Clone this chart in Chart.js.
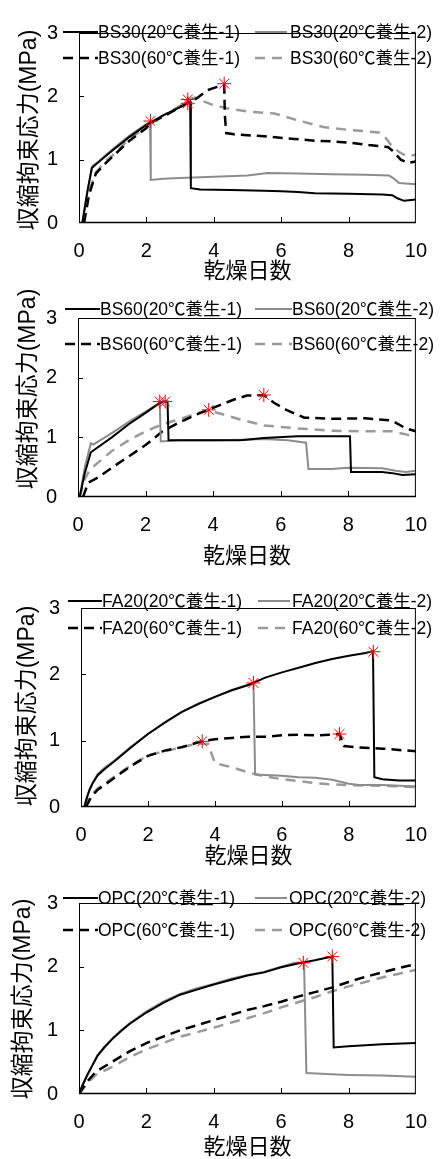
<!DOCTYPE html>
<html>
<head>
<meta charset="utf-8">
<script src="https://cdn.jsdelivr.net/npm/chart.js@4.4.0/dist/chart.umd.min.js"></script>
<style>
  body { margin: 0; background: #fff; }
  .panel { position: absolute; left: 0; }
</style>
</head>
<body>
<canvas id="c1" class="panel" width="443" height="285" style="top:0px"></canvas>
<canvas id="c2" class="panel" width="443" height="290" style="top:285px"></canvas>
<canvas id="c3" class="panel" width="443" height="295" style="top:575px"></canvas>
<canvas id="c4" class="panel" width="443" height="289" style="top:870px"></canvas>
<script>
// [day, MPa]
const BS30_20_1 = [[0.1,0],[0.25,0.5],[0.38,0.87],[0.6,0.97],[1,1.15],[1.5,1.36],[2,1.55],[2.5,1.7],[3,1.83],[3.3,1.92],[3.32,0.55],[3.6,0.53],[4.5,0.52],[5.5,0.51],[6,0.5],[6.5,0.49],[7,0.47],[8,0.46],[9,0.45],[9.3,0.44],[9.45,0.39],[9.65,0.35],[10,0.37]];
const BS30_20_2 = [[0.1,0],[0.25,0.5],[0.4,0.9],[0.6,0.98],[1,1.17],[1.5,1.38],[2,1.56],[2.11,1.6],[2.13,0.68],[2.5,0.7],[3,0.71],[4,0.73],[5,0.75],[5.6,0.79],[6.5,0.78],[7.5,0.77],[8.5,0.76],[9.2,0.75],[9.35,0.7],[9.5,0.63],[10,0.61]];
const BS30_60_1 = [[0.15,0],[0.3,0.45],[0.5,0.78],[0.8,0.95],[1,1.05],[1.5,1.3],[2,1.5],[2.12,1.58],[2.5,1.68],[3,1.83],[3.25,1.9],[3.5,1.97],[3.82,2.1],[4.1,2.15],[4.31,2.18],[4.33,1.7],[4.37,1.42],[4.6,1.4],[5.5,1.37],[6.3,1.33],[7,1.3],[7.5,1.29],[8,1.27],[8.6,1.23],[9.17,1.2],[9.35,1.12],[9.55,1.0],[9.75,0.95],[10,0.97]];
const BS30_60_2 = [[0.1,0],[0.3,0.5],[0.5,0.8],[0.8,0.98],[1,1.07],[1.5,1.33],[2,1.52],[2.5,1.7],[3,1.85],[3.3,1.96],[3.45,1.98],[3.7,1.92],[4,1.86],[4.5,1.8],[5,1.76],[5.8,1.73],[6.5,1.62],[7.3,1.51],[8,1.47],[8.9,1.43],[9.05,1.38],[9.25,1.24],[9.5,1.12],[9.75,1.05],[10,1.08]];
const BS30_cracks = [[2.12,1.61],[3.23,1.95],[3.23,1.89],[4.31,2.2]];

const BS60_20_1 = [[0.05,0],[0.2,0.4],[0.38,0.75],[1,1.0],[1.5,1.22],[2,1.41],[2.4,1.57],[2.5,1.6],[2.65,1.6],[2.68,0.95],[3,0.95],[4,0.95],[4.8,0.95],[5.5,0.99],[6.5,1.02],[7.5,1.02],[8.05,1.02],[8.08,0.42],[9,0.42],[9.3,0.4],[9.6,0.37],[10,0.38]];
const BS60_20_2 = [[0.05,0],[0.2,0.5],[0.38,0.9],[0.45,0.88],[1,1.07],[1.5,1.26],[2,1.43],[2.42,1.58],[2.45,0.93],[3,0.95],[4,0.95],[5,0.96],[5.5,0.97],[6.2,0.95],[6.75,0.91],[6.82,0.47],[7.5,0.47],[8,0.49],[9,0.48],[9.4,0.44],[9.7,0.42],[10,0.44]];
const BS60_60_1 = [[0.15,0],[0.3,0.24],[0.6,0.33],[1,0.49],[1.5,0.68],[2,0.87],[2.5,1.1],[3,1.25],[3.5,1.38],[3.85,1.46],[4.2,1.54],[4.6,1.63],[5,1.7],[5.5,1.71],[5.8,1.58],[6.2,1.45],[6.7,1.33],[7.5,1.31],[8.5,1.32],[9.3,1.28],[9.7,1.15],[10,1.1]];
const BS60_60_2 = [[0.05,0],[0.2,0.3],[0.35,0.46],[1,0.77],[1.5,0.95],[2,1.1],[2.5,1.22],[3,1.3],[3.5,1.4],[3.85,1.45],[4.2,1.4],[4.8,1.3],[5.5,1.2],[6.5,1.15],[7.5,1.11],[8.5,1.1],[9.3,1.1],[9.7,1.05],[10,1.0]];
const BS60_cracks = [[2.42,1.6],[2.58,1.6],[3.87,1.46],[5.5,1.71]];

const FA20_20_1 = [[0.1,0],[0.17,0.13],[0.25,0.25],[0.35,0.36],[0.5,0.48],[0.7,0.57],[1,0.69],[1.5,0.9],[2,1.1],[2.5,1.27],[3,1.43],[3.5,1.55],[4,1.66],[4.5,1.76],[5,1.84],[5.5,1.95],[6,2.03],[6.5,2.1],[7,2.17],[7.5,2.23],[8,2.28],[8.5,2.32],[8.72,2.35],[8.76,0.45],[9,0.42],[9.5,0.4],[10,0.4]];
const FA20_20_2 = [[0.1,0],[0.17,0.14],[0.25,0.26],[0.35,0.37],[0.5,0.5],[0.7,0.59],[1,0.7],[1.5,0.91],[2,1.1],[2.5,1.28],[3,1.43],[3.5,1.56],[4,1.66],[4.5,1.76],[5.15,1.87],[5.2,0.49],[6,0.47],[6.5,0.45],[7,0.44],[7.5,0.41],[8,0.35],[8.3,0.33],[9,0.33],[10,0.31]];
const FA20_60_1 = [[0.15,0],[0.3,0.15],[0.5,0.26],[1,0.44],[1.5,0.62],[2,0.77],[2.5,0.85],[3,0.9],[3.6,0.99],[4,1.02],[4.5,1.04],[5,1.06],[5.5,1.06],[6,1.08],[6.5,1.09],[7,1.08],[7.4,1.09],[7.72,1.1],[7.85,0.92],[8.2,0.9],[9,0.88],[9.5,0.86],[10,0.84]];
const FA20_60_2 = [[0.1,0],[0.3,0.18],[0.5,0.28],[1,0.46],[1.5,0.63],[2,0.78],[2.5,0.84],[3,0.9],[3.5,0.96],[3.8,0.95],[3.9,0.8],[4,0.66],[4.5,0.6],[5,0.52],[5.5,0.46],[6,0.42],[6.5,0.39],[7,0.36],[7.5,0.34],[8,0.33],[9,0.32],[10,0.3]];
const FA20_cracks = [[3.62,0.99],[5.15,1.87],[7.72,1.1],[8.73,2.34]];

const OPC_20_1 = [[0,0],[0.1,0.13],[0.25,0.3],[0.4,0.45],[0.55,0.6],[0.75,0.73],[1,0.87],[1.25,0.99],[1.5,1.1],[2,1.28],[2.5,1.43],[3,1.56],[3.5,1.64],[4,1.72],[4.5,1.79],[5,1.86],[5.5,1.91],[6,1.99],[6.5,2.05],[7,2.1],[7.52,2.16],[7.56,0.73],[8,0.75],[9,0.78],[10,0.8]];
const OPC_20_2 = [[0,0],[0.1,0.14],[0.25,0.31],[0.4,0.46],[0.55,0.61],[0.75,0.74],[1,0.88],[1.25,1.0],[1.5,1.11],[2,1.3],[2.5,1.45],[3,1.57],[3.5,1.66],[4,1.73],[4.5,1.81],[5,1.87],[5.5,1.92],[6,2.0],[6.4,2.06],[6.68,2.07],[6.75,0.33],[7.5,0.31],[8,0.3],[9,0.29],[10,0.27]];
const OPC_60_1 = [[0,0],[0.25,0.2],[0.5,0.35],[1,0.51],[1.5,0.67],[2,0.8],[2.5,0.9],[3,1.0],[3.5,1.08],[4,1.16],[4.5,1.24],[5,1.32],[5.5,1.38],[6,1.45],[6.5,1.53],[7,1.6],[7.5,1.67],[8,1.76],[8.5,1.84],[9,1.91],[9.5,1.98],[10,2.04]];
const OPC_60_2 = [[0,0],[0.25,0.17],[0.5,0.3],[1,0.43],[1.5,0.58],[2,0.7],[2.5,0.8],[3,0.9],[3.5,0.97],[4,1.04],[4.5,1.12],[5,1.19],[5.5,1.27],[6,1.36],[6.5,1.44],[7,1.52],[7.5,1.61],[8,1.69],[8.5,1.76],[9,1.83],[9.5,1.89],[10,1.95]];
const OPC_cracks = [[6.66,2.06],[7.52,2.16]];

const xTicks = [0, 2, 4, 6, 8, 10];
const yTicks = [0, 1, 2, 3];
const xTitle = '乾燥日数';
const yTitle = '収縮拘束応力(MPa)';
const curing = ['20℃養生-1', '20℃養生-2', '60℃養生-1', '60℃養生-2'];

const FONT = "'Liberation Sans', Arial, 'Noto Sans CJK JP', sans-serif";
Chart.defaults.font.family = FONT;
Chart.defaults.color = '#000';

const toXY = arr => arr.map(p => ({x: p[0], y: p[1]}));

// frame + inward tick marks + rotated y title
const frame = {
  id: 'frame',
  afterDatasetsDraw(chart, args, o) {
    const {ctx, chartArea: a, scales: {x, y}} = chart;
    ctx.save();
    ctx.strokeStyle = '#000';
    ctx.lineWidth = 1;
    ctx.strokeRect(a.left + 0.5, a.top + 0.5, a.right - a.left - 1, a.bottom - a.top - 1);
    ctx.lineWidth = 1.5;
    ctx.beginPath();
    ctx.moveTo(a.left, a.bottom - 0.5); ctx.lineTo(a.right, a.bottom - 0.5);
    ctx.stroke();
    ctx.lineWidth = 1;
    ctx.beginPath();
    xTicks.slice(1, -1).forEach(v => {
      const px = Math.round(x.getPixelForValue(v)) + 0.5;
      ctx.moveTo(px, a.bottom); ctx.lineTo(px, a.bottom - 6);
    });
    yTicks.slice(1, -1).forEach(v => {
      const py = Math.round(y.getPixelForValue(v)) + 0.5;
      ctx.moveTo(a.left, py); ctx.lineTo(a.left + 5, py);
    });
    ctx.stroke();
    ctx.translate(o.yt[0], o.yt[1]);
    ctx.rotate(-Math.PI / 2);
    ctx.font = '23px ' + FONT;
    ctx.fillStyle = '#000';
    ctx.textAlign = 'center';
    ctx.textBaseline = 'middle';
    ctx.fillText(yTitle, 0, 0);
    ctx.restore();
  }
};

// legend drawn over the plot like the original
const panelLegend = {
  id: 'panelLegend',
  afterDraw(chart, args, o) {
    const ctx = chart.ctx;
    ctx.save();
    ctx.font = o.font;
    ctx.textBaseline = 'middle';
    ctx.fillStyle = '#000';
    chart.data.datasets.forEach(ds => {
      if (ds.slot === undefined) return;
      const row = Math.floor(ds.slot / 2), col = ds.slot % 2;
      const yy = o.rows[row];
      const c = o.cols[col];
      ctx.strokeStyle = ds.borderColor;
      ctx.lineWidth = ds.borderWidth;
      ctx.setLineDash(ds.borderDash || []);
      ctx.beginPath();
      ctx.moveTo(c[0], yy); ctx.lineTo(c[1], yy);
      ctx.stroke();
      ctx.setLineDash([]);
      ctx.fillText(ds.label, c[2], yy + 1);
    });
    ctx.restore();
  }
};

function makePanel(id, name, s201, s202, s601, s602, cracks, L) {
  const styles = [
    {color: '#000', width: 2, dash: [], order: 1},
    {color: '#8c8c8c', width: 2, dash: [], order: 2},
    {color: '#000', width: 2.5, dash: [10, 6], order: 3},
    {color: '#9a9a9a', width: 2.5, dash: [10, 7], order: 4}
  ];
  const series = [s201, s202, s601, s602];
  const datasets = series.map((s, i) => ({
    label: name + '(' + curing[i] + ')',
    slot: i,
    data: toXY(s),
    borderColor: styles[i].color,
    borderWidth: styles[i].width,
    borderDash: styles[i].dash,
    order: styles[i].order,
    pointRadius: 0,
    tension: 0,
    fill: false
  }));
  datasets.push({
    label: 'crack',
    data: toXY(cracks),
    showLine: false,
    order: 0,
    pointStyle: 'star',
    pointRadius: 7,
    borderColor: '#ff0000',
    borderWidth: 1,
    backgroundColor: '#ff0000'
  });
  const H = document.getElementById(id).height;
  return new Chart(document.getElementById(id), {
    type: 'line',
    data: {datasets: datasets},
    plugins: [frame, panelLegend],
    options: {
      responsive: false,
      animation: false,
      layout: {padding: {left: 0, right: 443 - L.right, top: L.top, bottom: 0}},
      plugins: {
        legend: {display: false},
        tooltip: {enabled: false},
        frame: {yt: L.yt},
        panelLegend: {font: '17.5px ' + FONT, rows: L.rows, cols: L.cols}
      },
      scales: {
        x: {
          type: 'linear', min: 0, max: 10,
          afterBuildTicks: sc => { sc.ticks = xTicks.map(v => ({value: v})); },
          afterFit: sc => { sc.height = H - L.bottom; },
          grid: {display: false, drawTicks: false},
          border: {display: false},
          ticks: {font: {size: 20}, padding: 16, maxRotation: 0},
          title: {display: true, text: xTitle, font: {size: 22, lineHeight: 1}, padding: {top: 0, bottom: L.xtb}}
        },
        y: {
          type: 'linear', min: 0, max: 3,
          afterBuildTicks: sc => { sc.ticks = yTicks.map(v => ({value: v})); },
          afterFit: sc => { sc.width = L.left; },
          grid: {display: false, drawTicks: false},
          border: {display: false},
          ticks: {font: {size: 20}, padding: 21}
        }
      }
    }
  });
}

makePanel('c1', 'BS30', BS30_20_1, BS30_20_2, BS30_60_1, BS30_60_2, BS30_cracks,
  {left: 79, right: 418, top: 19, bottom: 223, xtb: 2, yt: [30, 130], rows: [32, 58], cols: [[63, 98, 98], [255, 287, 290]]});
makePanel('c2', 'BS60', BS60_20_1, BS60_20_2, BS60_60_1, BS60_60_2, BS60_cracks,
  {left: 78, right: 417, top: 15, bottom: 212, xtb: 7, yt: [29, 104], rows: [24, 59], cols: [[65, 100, 100], [255, 292, 292]]});
makePanel('c3', 'FA20', FA20_20_1, FA20_20_2, FA20_60_1, FA20_60_2, FA20_cracks,
  {left: 81, right: 422, top: 14, bottom: 232, xtb: 2, yt: [28, 131], rows: [26, 53], cols: [[68, 102, 102], [258, 290, 292]]});
makePanel('c4', 'OPC', OPC_20_1, OPC_20_2, OPC_60_1, OPC_60_2, OPC_cracks,
  {left: 79, right: 426, top: 17, bottom: 224, xtb: 0, yt: [24, 129], rows: [28, 60], cols: [[63, 98, 98], [255, 287, 289]]});
</script>
</body>
</html>
